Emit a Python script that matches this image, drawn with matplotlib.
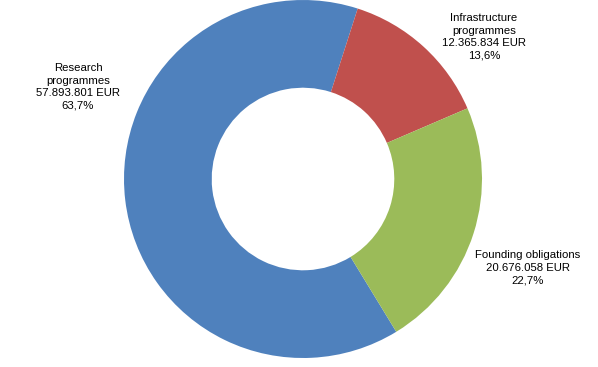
import matplotlib
matplotlib.use("Agg")
import matplotlib.pyplot as plt

# Data
categories = ["Research\nprogrammes", "Infrastructure\nprogrammes", "Founding obligations"]
values_eur = [57893801, 12365834, 20676058]
colors = ["#4F81BD", "#C0504D", "#9BBB59"]

plt.rcParams['font.family'] = ['Liberation Sans', 'DejaVu Sans']

W, H = 598, 367
fig = plt.figure(figsize=(W / 100, H / 100), dpi=100)
ax = fig.add_axes([0, 0, 1, 1])

total = sum(values_eur)
cx, cy, r = 303, H - 179, 179
ax.pie(values_eur, colors=colors, startangle=90 - 148.6, counterclock=False,
       center=(cx, cy), radius=r, wedgeprops=dict(width=r * 0.49, linewidth=0),
       frame=True)
ax.set_xlim(0, W)
ax.set_ylim(0, H)
ax.set_aspect('equal')
ax.axis('off')


def fmt_eur(v):
    return f"{v:,}".replace(",", ".") + " EUR"


def fmt_pct(v):
    return f"{100 * v / total:.1f}".replace(".", ",") + "%"


label_pos = [(78, 87), (484, 37), (528, 268)]
for name, v, (lx, ly) in zip(categories, values_eur, label_pos):
    ax.text(lx, H - ly, f"{name}\n{fmt_eur(v)}\n{fmt_pct(v)}",
            ha='center', va='center', fontsize=8.2, linespacing=1.33,
            color='black')

fig.savefig("out.png", dpi=100)
